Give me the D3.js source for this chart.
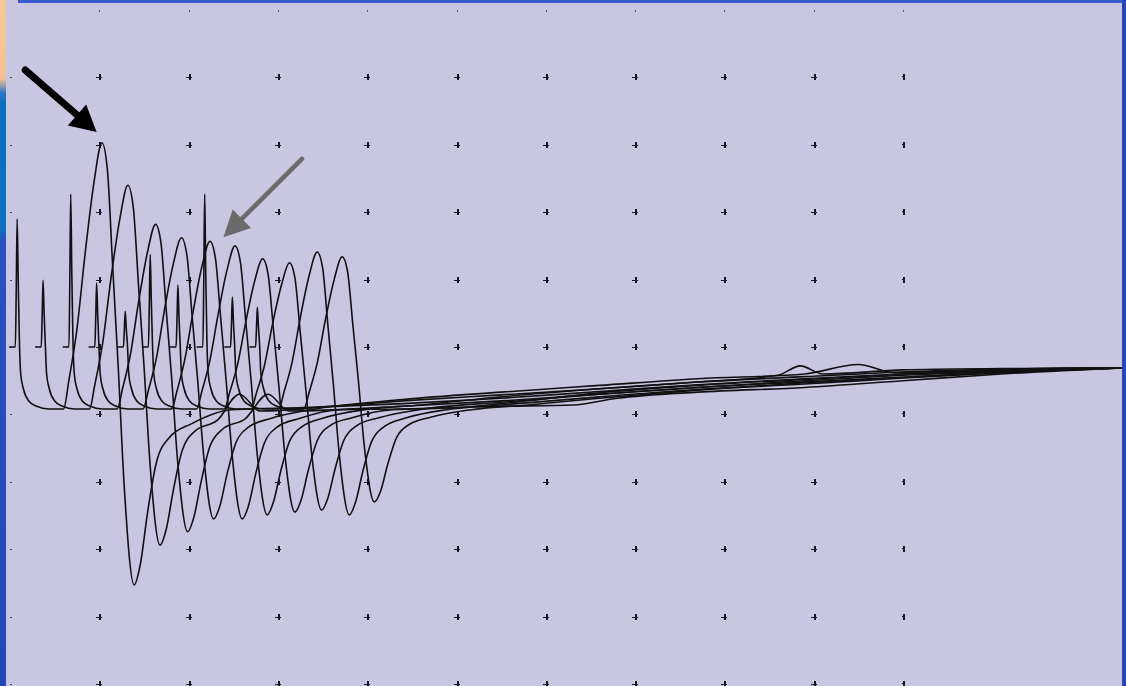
<!DOCTYPE html>
<html>
<head>
<meta charset="utf-8">
<script src="https://cdn.jsdelivr.net/npm/d3@7"></script>
<style>
html,body{margin:0;padding:0;background:#c9c6e2;overflow:hidden;}
svg{display:block;}
</style>
</head>
<body>
<div id="scope"></div>
<script>
// overlaid sweeps, [time (div), amplitude (div)]
// each one: stimulus artefact, response peak, trough, slow return
const sweep0 = [[-0.01,0],[0.06,0],[0.07,0.86],[0.08,1.90],[0.092,1.0],[0.105,0.1],[0.12,-0.4],[0.15,-0.62],[0.21,-0.8],[0.30,-0.88],[0.43,-0.92],
  [0.60,-0.92],[0.66,-0.49],[0.75,0.27],[0.84,1.37],[0.94,2.44],[1.03,3.03],
  [1.09,2.64],[1.15,1.19],[1.21,-0.25],[1.28,-2.09],[1.39,-3.53],
  [1.46,-3.22],[1.54,-2.46],[1.64,-1.71],[1.78,-1.35],[2.03,-1.14],[2.48,-0.93],
  [3.3,-0.90],[4.4,-0.84],[5.5,-0.76],[6.6,-0.66],[7.7,-0.56],[8.9,-0.47],[10.0,-0.40],[11.1,-0.35],[12.45,-0.31]];
const sweep1 = [[0.28,0],[0.35,0],[0.36,0.45],[0.37,0.99],[0.382,0.5],[0.395,0.05],[0.41,-0.4],[0.44,-0.62],[0.50,-0.8],[0.59,-0.88],[0.72,-0.92],
  [0.89,-0.92],[0.95,-0.56],[1.04,0.08],[1.13,1.01],[1.23,1.90],[1.32,2.40],
  [1.38,2.08],[1.44,0.90],[1.50,-0.27],[1.57,-1.77],[1.68,-2.94],
  [1.75,-2.70],[1.83,-2.12],[1.93,-1.53],[2.07,-1.25],[2.32,-1.09],[2.57,-0.70],[2.80,-0.95],
  [3.6,-0.88],[4.4,-0.80],[5.5,-0.71],[6.6,-0.62],[7.7,-0.52],[8.9,-0.44],[10.0,-0.37],[11.1,-0.33],[12.45,-0.31]];
const sweep2 = [[0.59,0],[0.66,0],[0.67,1.0],[0.68,2.27],[0.692,1.1],[0.705,0.1],[0.72,-0.4],[0.75,-0.62],[0.81,-0.8],[0.90,-0.88],[1.03,-0.92],
  [1.20,-0.92],[1.26,-0.62],[1.35,-0.10],[1.44,0.67],[1.54,1.41],[1.63,1.82],
  [1.69,1.55],[1.75,0.54],[1.81,-0.46],[1.88,-1.74],[1.99,-2.74],
  [2.06,-2.52],[2.14,-2.00],[2.24,-1.47],[2.38,-1.22],[2.63,-1.07],[2.89,-0.70],[3.12,-0.95],
  [4.4,-0.88],[5.5,-0.80],[6.6,-0.70],[7.7,-0.60],[8.9,-0.50],[10.0,-0.42],[11.1,-0.36],[12.45,-0.31]];
const sweep3 = [[0.88,0],[0.95,0],[0.96,0.43],[0.97,0.95],[0.982,0.48],[0.995,0.05],[1.01,-0.4],[1.04,-0.62],[1.10,-0.8],[1.19,-0.88],[1.32,-0.92],
  [1.49,-0.92],[1.55,-0.64],[1.64,-0.16],[1.73,0.55],[1.83,1.24],[1.92,1.62],
  [1.98,1.37],[2.04,0.45],[2.10,-0.47],[2.17,-1.63],[2.28,-2.55],
  [2.35,-2.36],[2.43,-1.89],[2.53,-1.42],[2.67,-1.19],[2.92,-1.06],[3.37,-0.93],
  [4.4,-0.78],[5.5,-0.67],[6.6,-0.57],[7.7,-0.47],[8.9,-0.40],[9.5,-0.26],[9.9,-0.38],[11.1,-0.33],[12.45,-0.31]];
const sweep4 = [[1.20,0],[1.27,0],[1.28,0.24],[1.29,0.53],[1.302,0.27],[1.315,0.03],[1.33,-0.4],[1.36,-0.62],[1.42,-0.8],[1.51,-0.88],[1.64,-0.92],
  [1.81,-0.92],[1.87,-0.65],[1.96,-0.17],[2.05,0.52],[2.15,1.20],[2.24,1.57],
  [2.30,1.32],[2.36,0.42],[2.42,-0.49],[2.49,-1.64],[2.60,-2.55],
  [2.67,-2.36],[2.75,-1.89],[2.85,-1.42],[2.99,-1.19],[3.24,-1.06],[3.69,-0.93],
  [4.4,-0.92],[5.5,-0.88],[6.3,-0.86],[6.8,-0.76],[7.7,-0.67],[8.9,-0.60],[10.0,-0.50],[11.1,-0.40],[12.45,-0.31]];
const sweep5 = [[1.48,0],[1.55,0],[1.56,0.62],[1.57,1.37],[1.582,0.7],[1.595,0.07],[1.61,-0.4],[1.64,-0.62],[1.70,-0.8],[1.79,-0.88],[1.92,-0.92],
  [2.09,-0.92],[2.15,-0.65],[2.24,-0.19],[2.33,0.48],[2.43,1.14],[2.52,1.50],
  [2.58,1.26],[2.64,0.38],[2.70,-0.50],[2.77,-1.61],[2.88,-2.49],
  [2.95,-2.30],[3.03,-1.85],[3.13,-1.40],[3.27,-1.18],[3.52,-1.05],[3.97,-0.93],
  [4.6,-0.86],[5.5,-0.74],[6.6,-0.62],[7.7,-0.52],[8.6,-0.42],[8.85,-0.28],[9.1,-0.40],[10.0,-0.34],[11.1,-0.32],[12.45,-0.31]];
const sweep6 = [[1.79,0],[1.86,0],[1.87,0.41],[1.88,0.92],[1.892,0.46],[1.905,0.05],[1.92,-0.4],[1.95,-0.62],[2.01,-0.8],[2.10,-0.88],[2.23,-0.92],
  [2.40,-0.92],[2.46,-0.67],[2.55,-0.25],[2.64,0.37],[2.74,0.98],[2.83,1.31],
  [2.89,1.08],[2.95,0.26],[3.01,-0.57],[3.08,-1.62],[3.19,-2.45],
  [3.26,-2.27],[3.34,-1.83],[3.44,-1.39],[3.58,-1.17],[3.83,-1.05],[4.28,-0.93],
  [5.0,-0.90],[5.5,-0.84],[6.6,-0.68],[7.7,-0.57],[8.9,-0.48],[10.0,-0.40],[11.1,-0.34],[12.45,-0.31]];
const sweep7 = [[2.09,0],[2.16,0],[2.17,1.0],[2.18,2.27],[2.192,1.1],[2.205,0.1],[2.22,-0.4],[2.25,-0.62],[2.31,-0.8],[2.40,-0.88],[2.53,-0.92],
  [2.70,-0.92],[2.76,-0.68],[2.85,-0.27],[2.94,0.34],[3.04,0.92],[3.13,1.25],
  [3.19,1.03],[3.25,0.22],[3.31,-0.59],[3.38,-1.61],[3.49,-2.42],
  [3.56,-2.24],[3.64,-1.81],[3.74,-1.38],[3.88,-1.17],[4.13,-1.05],[4.58,-0.93],
  [5.5,-0.82],[6.6,-0.70],[7.7,-0.60],[8.9,-0.52],[10.0,-0.45],[11.1,-0.38],[12.45,-0.31]];
const sweep8 = [[2.40,0],[2.47,0],[2.48,0.33],[2.49,0.74],[2.502,0.37],[2.515,0.04],[2.53,-0.4],[2.56,-0.62],[2.62,-0.8],[2.71,-0.88],[2.84,-0.92],
  [3.01,-0.92],[3.07,-0.66],[3.16,-0.22],[3.25,0.43],[3.35,1.06],[3.44,1.41],
  [3.50,1.18],[3.56,0.32],[3.62,-0.54],[3.69,-1.63],[3.80,-2.49],
  [3.87,-2.30],[3.95,-1.85],[4.05,-1.40],[4.19,-1.18],[4.44,-1.05],[4.89,-0.93],
  [5.5,-0.86],[6.6,-0.74],[7.7,-0.63],[8.9,-0.55],[10.0,-0.46],[11.1,-0.38],[12.45,-0.31]];
const sweep9 = [[2.68,0],[2.75,0],[2.76,0.27],[2.77,0.59],[2.782,0.3],[2.795,0.03],[2.81,-0.4],[2.84,-0.62],[2.90,-0.8],[2.99,-0.88],[3.12,-0.92],
  [3.29,-0.92],[3.35,-0.67],[3.44,-0.24],[3.53,0.39],[3.63,1.00],[3.72,1.34],
  [3.78,1.12],[3.84,0.32],[3.90,-0.48],[3.97,-1.50],[4.08,-2.30],
  [4.15,-2.14],[4.23,-1.74],[4.33,-1.34],[4.47,-1.15],[4.72,-1.04],[5.17,-0.93],
  [5.8,-0.86],[6.6,-0.76],[7.7,-0.64],[8.9,-0.53],[10.0,-0.45],[11.1,-0.37],[12.45,-0.31]];

// graticule divisions
const gridCols = [0,1,2,3,4,5,6,7,8,9,10];
const gridRows = [-5,-4,-3,-2,-1,0,1,2,3,4,5];

// the two pointer arrows, [tail, tip]
const arrowBlack = [[0.17,4.11],[0.97,3.19]];
const arrowGray = [[3.27,2.79],[2.39,1.63]];

const W = 1126, H = 686;
const panel = {left: 6, top: 3, right: 1122, bottom: 686};

const x = d3.scaleLinear().domain([0,10]).range([10,903]);
const y = d3.scaleLinear().domain([-5,5]).range([684,10]);

const svg = d3.select("#scope").append("svg")
    .attr("width", W).attr("height", H);

const defs = svg.append("defs");
const grad = defs.append("linearGradient").attr("id","edge")
    .attr("x1",0).attr("y1",0).attr("x2",0).attr("y2",1);
[["0%","#f7c89c"],["11.5%","#f3bf94"],["13.5%","#2f78c4"],["15%","#0a6fc0"],["33.5%","#0b70c2"],["35%","#2c50c1"],["100%","#2446b9"]]
  .forEach(s => grad.append("stop").attr("offset", s[0]).attr("stop-color", s[1]));

defs.append("clipPath").attr("id","screen").append("rect")
    .attr("x", panel.left).attr("y", panel.top)
    .attr("width", panel.right - panel.left).attr("height", panel.bottom - panel.top);

// background and frame
svg.append("rect").attr("width", W).attr("height", H).attr("fill", "#c9c6e2");
svg.append("rect").attr("x",0).attr("y",0).attr("width",panel.left).attr("height",H).attr("fill","url(#edge)");
svg.append("rect").attr("x",18).attr("y",0).attr("width",W-18).attr("height",panel.top).attr("fill","#3a5ccf");
svg.append("rect").attr("x",panel.right).attr("y",0).attr("width",W-panel.right).attr("height",H).attr("fill","#2446b8");

// graticule crosses
const g = svg.append("g").attr("clip-path","url(#screen)").attr("shape-rendering","crispEdges").attr("fill","#17171f");
gridRows.forEach(r => {
  gridCols.forEach(c => {
    const px = Math.round(x(c)), py = Math.round(y(r));
    if (r === 5) {
      if (c > 0) g.append("rect").attr("x",px).attr("y",py).attr("width",1).attr("height",2).attr("opacity",0.6);
      return;
    }
    if (c === 0) {
      g.append("rect").attr("x",px).attr("y",py).attr("width",2).attr("height",1).attr("opacity",0.7);
      return;
    }
    if (c === 10) {
      g.append("rect").attr("x",px).attr("y",py-3).attr("width",2).attr("height",6);
      g.append("rect").attr("x",px-1).attr("y",py-1).attr("width",1).attr("height",1);
      return;
    }
    g.append("rect").attr("x",px-3).attr("y",py).attr("width",6).attr("height",1);
    g.append("rect").attr("x",px).attr("y",py-3).attr("width",2).attr("height",6);
  });
});

// traces
const line = d3.line()
    .x(d => x(d[0]))
    .y(d => y(d[1]))
    .curve(d3.curveMonotoneX);

const sweeps = [sweep0, sweep1, sweep2, sweep3, sweep4, sweep5, sweep6, sweep7, sweep8, sweep9];
svg.append("g").attr("clip-path","url(#screen)")
  .selectAll("path").data(sweeps).enter().append("path")
    .attr("d", line)
    .attr("fill","none")
    .attr("stroke","#111111")
    .attr("stroke-width",1.6)
    .attr("stroke-linejoin","round");

// arrows
function arrow(pts, color, shaftW, headLen, headHalf){
  const x0 = x(pts[0][0]), y0 = y(pts[0][1]), x1 = x(pts[1][0]), y1 = y(pts[1][1]);
  const L = Math.hypot(x1-x0, y1-y0), ux = (x1-x0)/L, uy = (y1-y0)/L;
  const bx = x1 - ux*headLen, by = y1 - uy*headLen;
  svg.append("line")
    .attr("x1",x0).attr("y1",y0).attr("x2",bx+ux*3).attr("y2",by+uy*3)
    .attr("stroke",color).attr("stroke-width",shaftW).attr("stroke-linecap","round");
  svg.append("path")
    .attr("d", d3.line()([[x1,y1],[bx-uy*headHalf, by+ux*headHalf],[bx+uy*headHalf, by-ux*headHalf]]) + "Z")
    .attr("fill",color);
}
arrow(arrowBlack, "#000000", 7, 26, 14);
arrow(arrowGray, "#6b6b6b", 4.5, 26, 13);
</script>
</body>
</html>
